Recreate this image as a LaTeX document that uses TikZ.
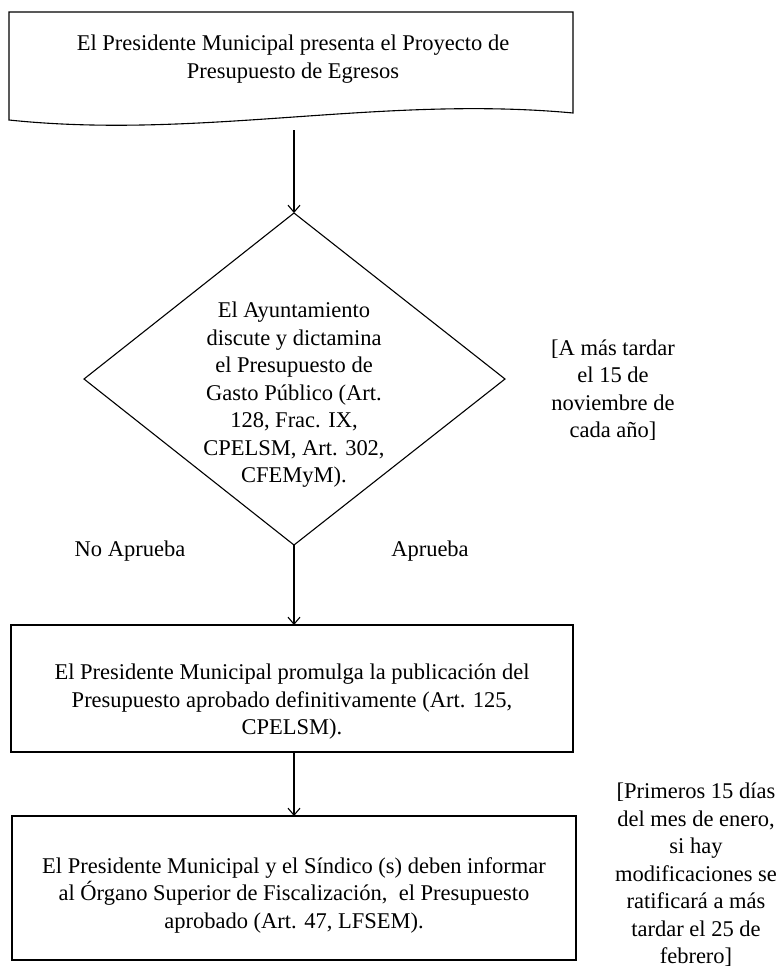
\documentclass[tikz,border=0pt]{standalone}
\usepackage{fontspec}
\setmainfont{Liberation Serif}
\usetikzlibrary{arrows.meta}
\begin{document}
\begin{tikzpicture}[x=1pt,y=-1pt,
  txt/.style={align=center,font=\fontsize{22.5}{27.5}\selectfont,inner sep=0pt},
  conn/.style={line width=1.1pt,-{Straight Barb[length=7pt,width=12pt,line width=1.1pt]}},
  shp/.style={line width=1.1pt}]
\useasboundingbox (0,0) rectangle (783,970);
% top document shape
\draw[shp] (9,12) -- (573,12) -- (573,113) .. controls (380,95) and (200,140) .. (9,120) -- cycle;
\node[txt] (t1) at (293,59) {El Presidente Municipal presenta el Proyecto de\\Presupuesto de Egresos};
\coordinate (d1) at (294,130);
% diamond
\draw[shp] (294,213) coordinate (dtop) -- (505,379) -- (294,545) coordinate (dbot) -- (84,379) -- cycle;
\node[txt] (dt) at (294,395) {El Ayuntamiento\\discute y dictamina\\el Presupuesto de\\Gasto Público (Art.\\128, Frac. IX,\\CPELSM, Art. 302,\\CFEMyM).};
\node[txt] (n1) at (613,390) {[A más tardar\\el 15 de\\noviembre de\\cada año]};
\node[txt] (no) at (130,551) {No Aprueba};
\node[txt] (si) at (430,551) {Aprueba};
% box 2
\draw[shp] (11,625) rectangle (573,752);
\coordinate (b2top) at (294,625);
\coordinate (b2bot) at (294,752);
\node[txt] (t2) at (292,702) {El Presidente Municipal promulga la publicación del\\Presupuesto aprobado definitivamente (Art. 125,\\CPELSM).};
% box 3
\draw[shp] (12,816) rectangle (576,960);
\coordinate (b3top) at (294,816);
\node[txt] (t3) at (294,895) {El Presidente Municipal y el Síndico (s) deben informar\\al Órgano Superior de Fiscalización,\ \ el Presupuesto\\aprobado (Art. 47, LFSEM).};
\node[txt] (n2) at (696,875) {[Primeros 15 días\\del mes de enero,\\si hay\\modificaciones se\\ratificará a más\\tardar el 25 de\\febrero]};
% connectors
\draw[conn] (d1) -- (dtop);
\draw[conn] (dbot) -- (b2top);
\draw[conn] (b2bot) -- (b3top);
\end{tikzpicture}
\end{document}
